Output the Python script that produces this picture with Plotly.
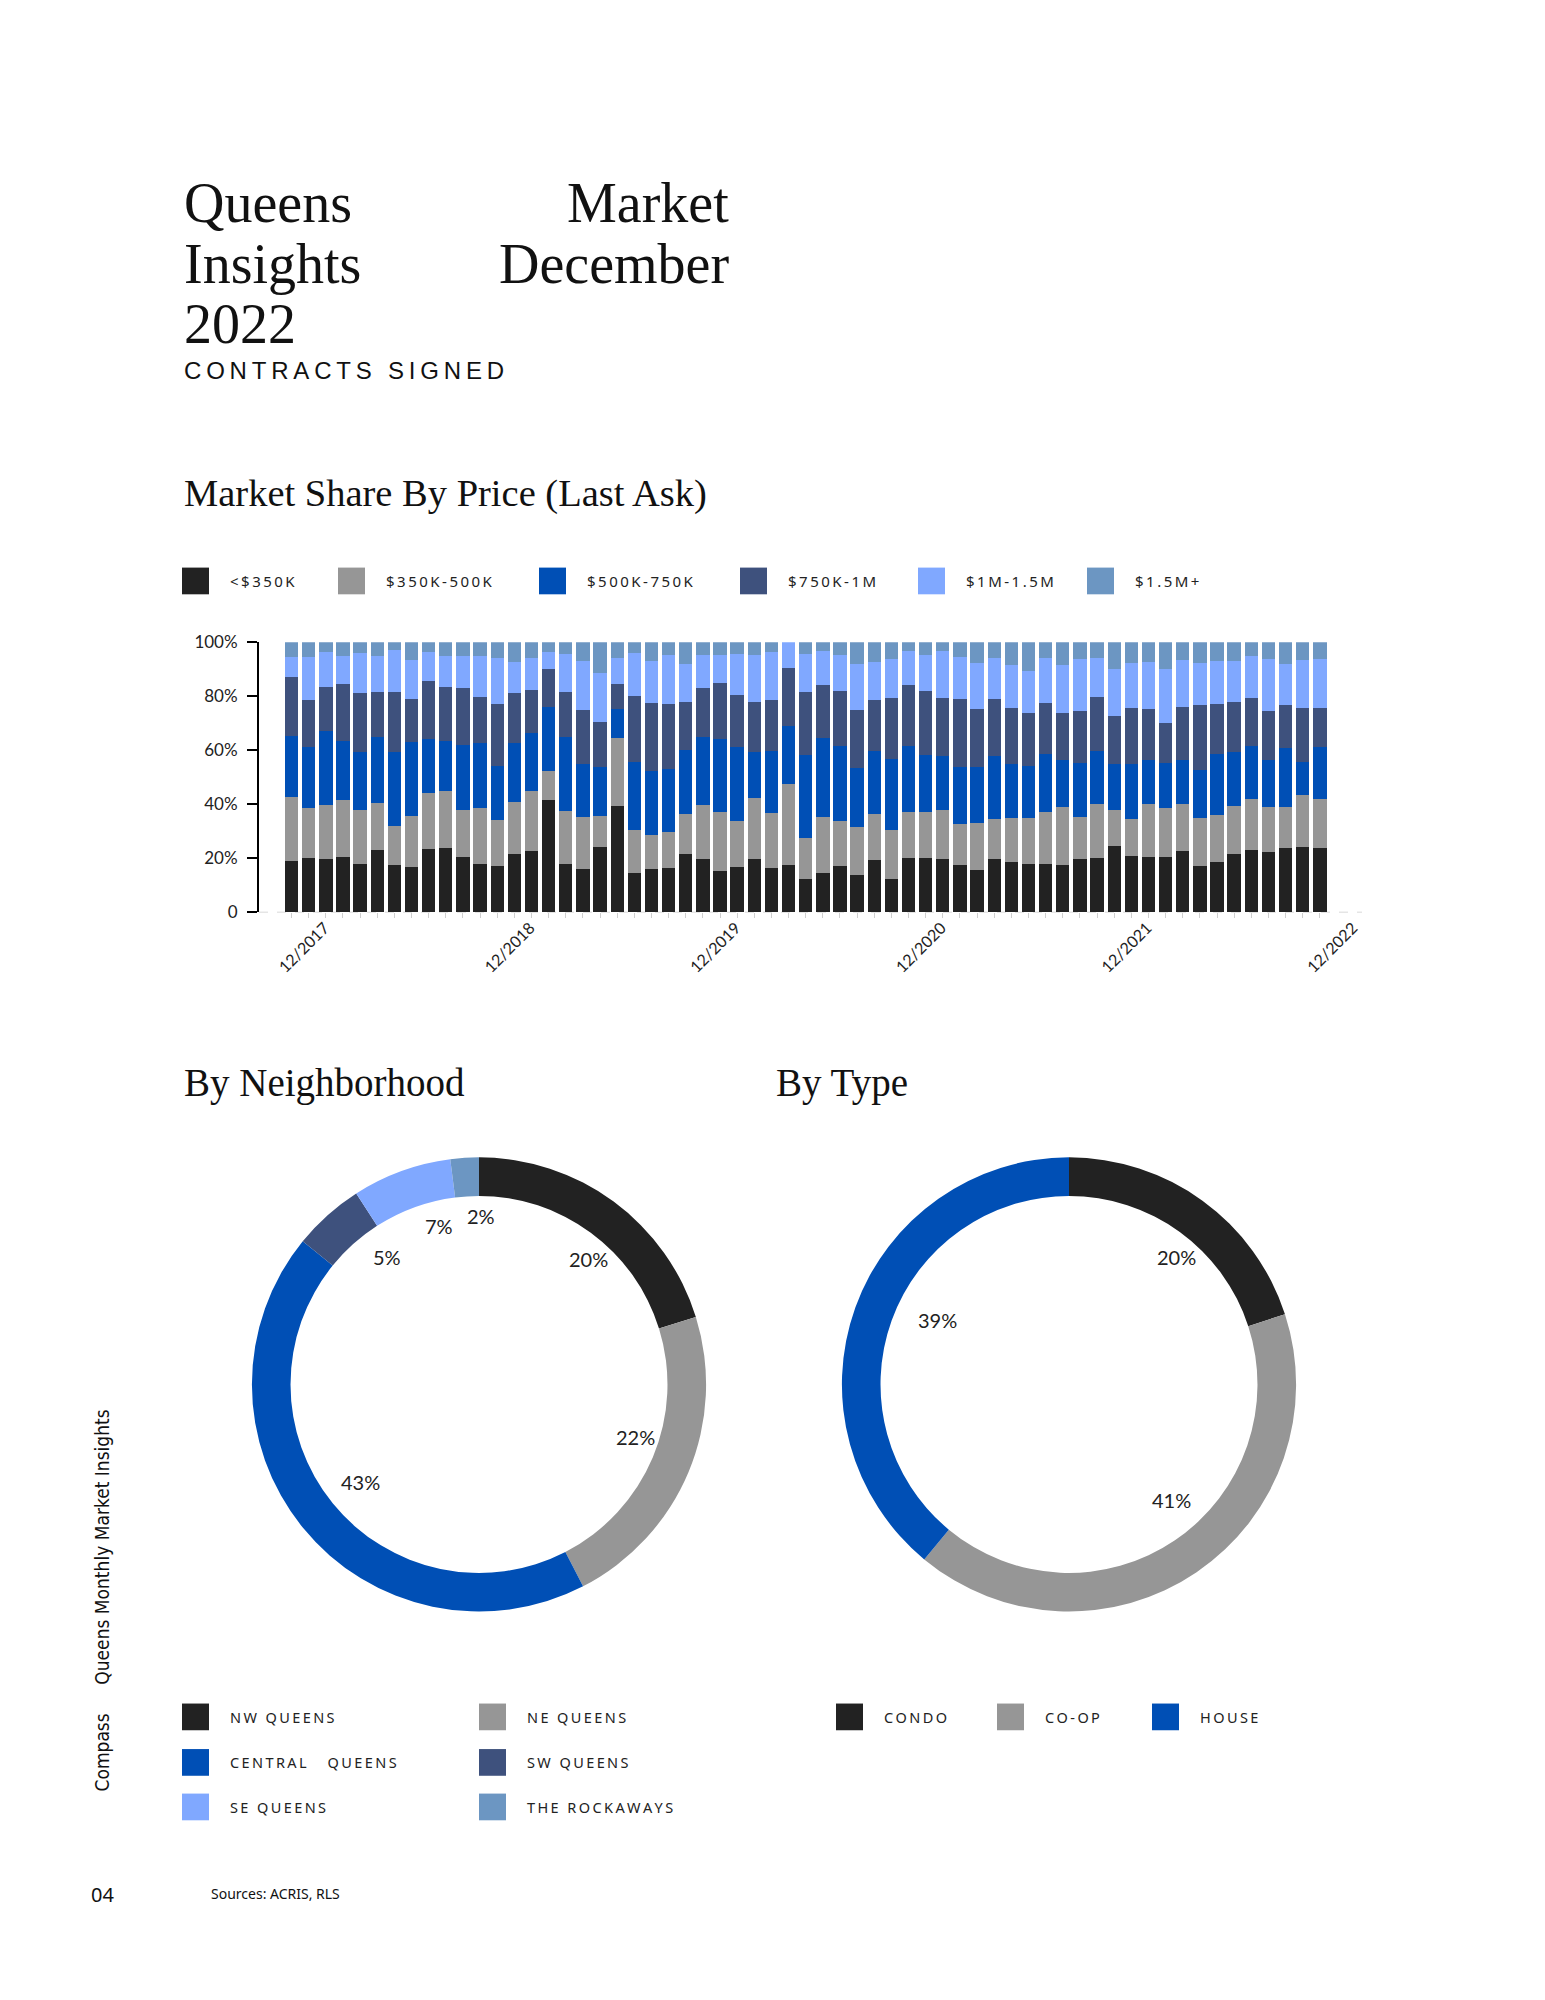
import math
import plotly.graph_objects as go

# ---------------- DATA ----------------
months = []
for yr in range(2017, 2023):
    for m in range(1, 13):
        if (yr == 2017 and m < 12):
            continue
        months.append(f"{m}/{yr}")
months = months[:61]

tick_labels = ["12/2017", "12/2018", "12/2019", "12/2020", "12/2021", "12/2022"]

series_names = ["<$350K", "$350K-500K", "$500K-750K", "$750K-1M", "$1M-1.5M", "$1.5M+"]

under_350k = [19.1, 20.1, 19.8, 20.5, 17.9, 23.0, 17.5, 16.9, 23.5, 24.0, 20.6, 17.8, 17.1, 21.7, 22.9, 41.7,
              18.0, 16.1, 24.3, 39.5, 14.7, 15.9, 16.5, 21.6, 19.8, 15.3, 16.8, 19.6, 16.4, 17.6, 12.4, 14.7,
              17.1, 13.8, 19.4, 12.5, 20.0, 20.2, 19.8, 17.4, 15.8, 19.6, 18.6, 17.9, 17.9, 17.4, 19.8, 20.1,
              24.7, 20.9, 20.5, 20.5, 22.7, 17.1, 18.8, 21.6, 23.1, 22.2, 23.9, 24.3, 23.7]
k350_500 = [23.6, 18.7, 20.0, 21.1, 19.9, 17.6, 14.4, 18.9, 20.6, 21.0, 17.5, 21.0, 17.3, 19.3, 22.2, 10.5,
            19.6, 19.3, 11.5, 25.2, 15.7, 12.9, 13.4, 14.8, 20.0, 22.0, 16.9, 22.6, 20.4, 30.0, 15.3, 20.8,
            16.9, 17.8, 17.2, 17.9, 17.3, 16.9, 18.3, 15.4, 17.2, 14.9, 16.4, 17.0, 19.4, 21.6, 15.7, 20.1,
            13.2, 13.6, 19.7, 18.1, 17.4, 17.9, 17.2, 17.8, 18.9, 16.9, 15.0, 19.3, 18.4]
k500_750 = [22.6, 22.4, 27.4, 21.9, 21.6, 24.4, 27.5, 27.3, 20.1, 18.6, 24.0, 23.9, 19.9, 21.9, 21.4, 23.8,
            27.5, 19.6, 18.0, 10.7, 25.3, 23.5, 23.1, 23.7, 25.2, 26.9, 27.4, 17.2, 22.8, 21.5, 30.6, 29.1,
            27.6, 21.8, 23.2, 26.4, 24.4, 21.2, 19.8, 20.9, 20.8, 23.4, 19.9, 19.3, 21.3, 17.4, 19.8, 19.4,
            17.0, 20.4, 16.4, 16.7, 16.2, 17.7, 22.6, 20.0, 19.7, 17.5, 22.0, 12.2, 19.1]
k750_1m = [21.9, 17.6, 16.3, 21.2, 22.0, 16.7, 22.3, 16.0, 21.3, 19.9, 21.1, 16.9, 22.8, 18.5, 15.7, 14.2,
           16.6, 20.0, 16.6, 9.3, 24.4, 25.2, 24.1, 17.7, 18.2, 20.8, 19.4, 18.5, 18.9, 21.5, 23.4, 19.6,
           20.5, 21.5, 19.0, 22.7, 22.4, 23.6, 21.4, 25.3, 21.6, 21.1, 20.8, 19.6, 19.0, 17.4, 19.2, 20.0,
           17.9, 20.8, 18.7, 14.8, 19.7, 24.1, 18.5, 18.5, 17.6, 18.1, 15.9, 19.9, 14.5]
m1_15 = [7.3, 15.7, 12.9, 10.2, 14.7, 13.2, 15.3, 14.4, 11.0, 11.5, 11.7, 15.4, 17.1, 11.4, 12.0, 6.2,
         13.8, 17.9, 18.2, 9.5, 15.9, 15.5, 18.2, 14.1, 12.2, 10.3, 15.2, 17.5, 17.9, 9.4, 13.8, 12.6,
         13.3, 17.0, 14.0, 14.5, 12.7, 13.5, 17.5, 15.5, 17.0, 15.3, 15.9, 15.6, 16.6, 17.8, 19.4, 14.6,
         17.3, 16.6, 17.4, 20.2, 17.3, 15.4, 15.9, 15.1, 15.5, 19.1, 15.2, 17.7, 18.0]
m15_plus = [5.5, 5.5, 3.6, 5.1, 3.9, 5.1, 3.0, 6.5, 3.5, 5.0, 5.1, 5.0, 5.8, 7.2, 5.8, 3.6,
            4.5, 7.1, 11.4, 5.8, 4.0, 7.0, 4.7, 8.1, 4.6, 4.7, 4.3, 4.6, 3.6, 0.0, 4.5, 3.2,
            4.6, 8.1, 7.2, 6.0, 3.2, 4.6, 3.2, 5.5, 7.6, 5.7, 8.4, 10.6, 5.8, 8.4, 6.1, 5.8,
            9.9, 7.7, 7.3, 9.7, 6.7, 7.8, 7.0, 7.0, 5.2, 6.2, 8.0, 6.6, 6.3]
series_values = [under_350k, k350_500, k500_750, k750_1m, m1_15, m15_plus]

y_tick_vals = [0, 20, 40, 60, 80, 100]
y_tick_text = ["0", "20%", "40%", "60%", "80%", "100%"]

hood_names = ["NW QUEENS", "NE QUEENS", "CENTRAL QUEENS", "SW QUEENS", "SE QUEENS", "THE ROCKAWAYS"]
hood_values = [20, 22, 43, 5, 7, 2]

type_names = ["CONDO", "CO-OP", "HOUSE"]
type_values = [20, 41, 39]

# ---------------- STYLE ----------------
W, H = 1545, 2000
C_BLACK = "#222222"
C_GRAY = "#969696"
C_BLUE = "#004FB5"
C_NAVY = "#3E517D"
C_LIGHT = "#80A8FF"
C_STEEL = "#6C96C2"
bar_colors = [C_BLACK, C_GRAY, C_BLUE, C_NAVY, C_LIGHT, C_STEEL]
hood_colors = [C_BLACK, C_GRAY, C_BLUE, C_NAVY, C_LIGHT, C_STEEL]
type_colors = [C_BLACK, C_GRAY, C_BLUE]

SERIF = "Liberation Serif"
SANS = "Noto Sans"
ARIAL = "Liberation Sans"
TICKF = "Lato"
COND = "DejaVu Sans Condensed, Roboto, sans-serif"

# label placement tweaks (radius fraction, angle offset in degrees) for the donut percentages
hood_label_r = [0.73, 0.72, 0.67, 0.69, 0.72, 0.74]
hood_label_da = [4.5, -3.9, -0.7, 6.3, 6.0, 4.3]
type_label_r = [0.73, 0.68, 0.64]
type_label_da = [3.7, -7.1, 6.3]


def px(x):
    return x / W


def py(y):
    return 1 - y / H


def spaced(s, sep="\u2009"):
    out = sep.join(list(s))
    return out.replace("<", "&lt;")


fig = go.Figure()

# stacked bars
for name, vals, col in zip(series_names, series_values, bar_colors):
    fig.add_trace(go.Bar(x=months, y=vals, name=name, marker=dict(color=col, line=dict(width=0)),
                         xaxis="x", yaxis="y", showlegend=False))

# donuts
R = 229.5
donut1 = (479, 1388)
donut2 = (1069, 1388)
HOLE = 0.83


def add_donut(center, names, vals, cols, lr, lda):
    cx, cy = center
    fig.add_trace(go.Pie(labels=names, values=vals, hole=HOLE, sort=False, direction="clockwise",
                         rotation=0, textinfo="none", marker=dict(colors=cols, line=dict(width=0)),
                         domain=dict(x=[px(cx - R), px(cx + R)], y=[py(cy + R), py(cy - R)]),
                         showlegend=False))
    total = sum(vals)
    cum = 0
    for v, rf, da in zip(vals, lr, lda):
        mid = (cum + v / 2) / total * 2 * math.pi + math.radians(da)
        cum += v
        rr = rf * R
        lx = cx + rr * math.sin(mid)
        ly = cy - rr * math.cos(mid)
        fig.add_annotation(x=px(lx), y=py(ly), xref="paper", yref="paper", text=f"{round(v / total * 100)}%",
                           showarrow=False, xanchor="center", yanchor="middle",
                           font=dict(family=TICKF, size=20, color=C_BLACK))


add_donut(donut1, hood_names, hood_values, hood_colors, hood_label_r, hood_label_da)
add_donut(donut2, type_names, type_values, type_colors, type_label_r, type_label_da)

# axes
x0_cat, x1_cat = -1.90, 62.46
fig.update_layout(
    width=W, height=H, margin=dict(l=0, r=0, t=0, b=0),
    paper_bgcolor="white", plot_bgcolor="white", barmode="stack", bargap=0.22,
    xaxis=dict(domain=[px(259), px(1362)], type="category", range=[x0_cat, x1_cat],
               tickmode="array", tickvals=months,
               ticktext=[m if m in tick_labels else "" for m in months],
               tickangle=-45, ticks="outside", ticklen=5, tickcolor="#cfcfcf", tickwidth=1,
               showline=False, showgrid=False, zeroline=False, ticklabelshift=33, ticklabelstandoff=-6,
               tickfont=dict(family=TICKF, size=16, color=C_BLACK), anchor="y"),
    yaxis=dict(domain=[py(911), py(638)], range=[0, 100], tickmode="array", tickvals=y_tick_vals,
               ticktext=y_tick_text, showline=True, linecolor="black", linewidth=2, ticks="outside",
               ticklen=10, tickwidth=2, tickcolor="black", showgrid=False, zeroline=False,
               tickfont=dict(family=TICKF, size=17, color=C_BLACK), anchor="x", ticklabelstandoff=6),
)

# dashed baseline
fig.add_shape(type="line", xref="x domain", yref="y", x0=0, x1=1, y0=0, y1=0,
              line=dict(color="#cccccc", width=1.5, dash="dash"), layer="below")


def text(x, y, s, size, family, xanchor="left", color="#111111", angle=0):
    fig.add_annotation(x=px(x), y=py(y), xref="paper", yref="paper", text=s, showarrow=False,
                       xanchor=xanchor, yanchor="middle", textangle=angle,
                       font=dict(family=family, size=size, color=color))


# titles
text(182, 194, "Queens", 56, SERIF)
text(731, 194, "Market", 56, SERIF, xanchor="right")
text(182, 256, "Insights", 56, SERIF)
text(731, 256, "December", 56, SERIF, xanchor="right")
text(182, 316, "2022", 56, SERIF)
text(182, 363, spaced("CONTRACTS SIGNED"), 24, ARIAL)
text(182, 488, "Market Share By Price (Last Ask)", 38.5, SERIF)
text(182, 1083, "By Neighborhood", 39, SERIF)
text(774, 1083, "By Type", 39, SERIF)


def legend_item(x, y, col, label, size):
    fig.add_shape(type="rect", xref="paper", yref="paper", x0=px(x), x1=px(x + 27), y0=py(y + 13.5),
                  y1=py(y - 13.5), fillcolor=col, line=dict(width=0))
    text(x + 46, y, spaced(label), size, SANS, color="#222222")


# bar legend
bar_leg_x = [182, 338, 539, 740, 918, 1087]
for xx, col, nm in zip(bar_leg_x, bar_colors, series_names):
    legend_item(xx, 576, col, nm, 15)

# neighborhood legend
hood_leg = [(182, 1724), (479, 1724), (182, 1770), (479, 1770), (182, 1815), (479, 1815)]
hood_leg_labels = ["NW QUEENS", "NE QUEENS", "CENTRAL   QUEENS", "SW QUEENS", "SE QUEENS", "THE ROCKAWAYS"]
hood_leg_colors = [C_BLACK, C_GRAY, C_BLUE, C_NAVY, C_LIGHT, C_STEEL]
for (xx, yy), col, nm in zip(hood_leg, hood_leg_colors, hood_leg_labels):
    legend_item(xx, yy, col, nm, 14.5)

# type legend
for xx, col, nm in zip([836, 997, 1152], type_colors, type_names):
    legend_item(xx, 1724, col, nm, 14.5)

# side / footer text
text(102, 1553, "Queens Monthly Market Insights", 19, COND, xanchor="center", angle=-90)
text(102, 1760, "Compass", 19, COND, xanchor="center", angle=-90)
text(89, 1903, "04", 20, SANS)
text(209, 1902, "Sources: ACRIS, RLS", 14, SANS)

fig.write_html("out.html", config={"displayModeBar": False},
               post_script="document.body.style.margin='0';")
